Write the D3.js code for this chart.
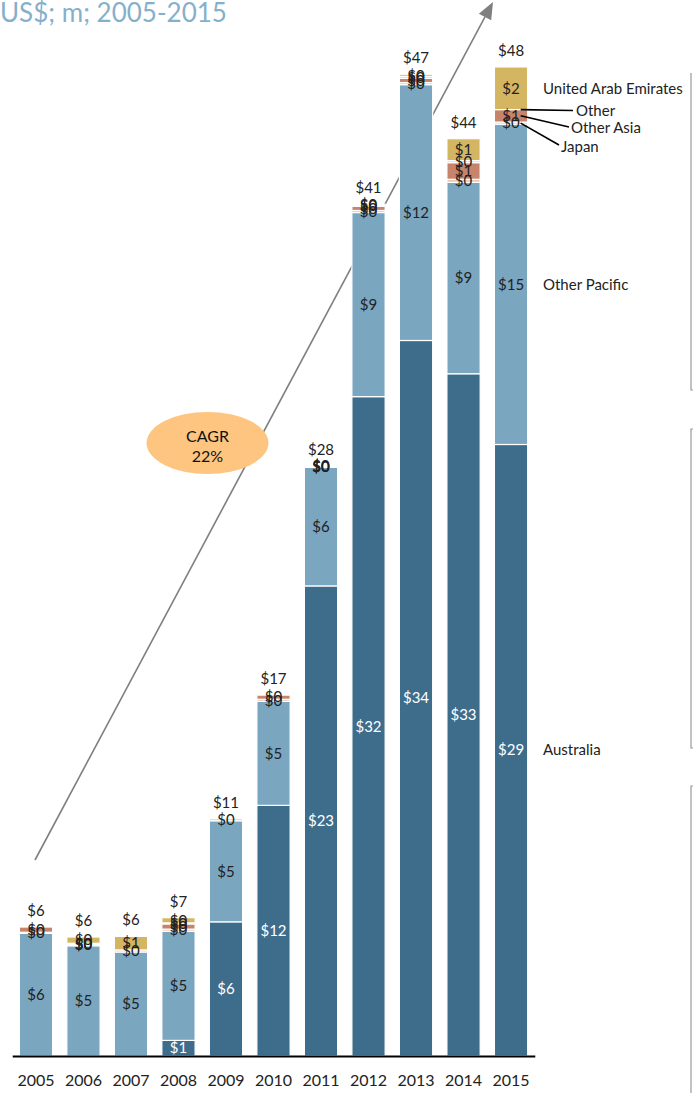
<!DOCTYPE html>
<html>
<head>
<meta charset="utf-8">
<script src="https://cdn.jsdelivr.net/npm/d3@7"></script>
<style>
  html, body { margin: 0; padding: 0; background: #fff; }
  svg { display: block; font-family: Lato, "Open Sans", sans-serif; }
</style>
</head>
<body>
<svg id="chart" width="693" height="1093"></svg>
<script>
// ---- data ----
const years = ["2005","2006","2007","2008","2009","2010","2011","2012","2013","2014","2015"];
const australia    = [0, 0, 0, 0.75, 6.45, 12.05, 22.6, 31.7, 34.4, 32.8, 29.4];
const otherPacific = [5.9, 5.3, 5.0, 5.25, 4.86, 5.0, 5.7, 8.85, 12.3, 9.2, 15.4];
const japan        = [0.05, 0.05, 0.1, 0.1, 0.1, 0.1, 0.02, 0.1, 0.1, 0.15, 0.1];
const otherAsia    = [0.25, 0.05, 0, 0.25, 0, 0.2, 0.02, 0.2, 0.2, 0.8, 0.6];
const other        = [0, 0.02, 0, 0.05, 0, 0, 0.01, 0.05, 0.1, 0.1, 0];
const uae          = [0, 0.3, 0.65, 0.25, 0, 0, 0.01, 0.05, 0.1, 1.05, 2.05];
const seriesNames  = ["Australia", "Other Pacific", "Japan", "Other Asia", "Other", "United Arab Emirates"];
const cagrLabel = ["CAGR", "22%"];
const titleText = "US$; m; 2005-2015";

const seriesValues = [australia, otherPacific, japan, otherAsia, other, uae];
const colors = ["#3e6d8c", "#7ba6c0", "#eccab4", "#c8836b", "#f0d7c4", "#d4b562"];
const labelColors = ["#ffffff", "#222", "#222", "#222", "#222", "#222"];

const rows = years.map((y, i) => {
  const r = { year: y };
  seriesNames.forEach((s, j) => r[s] = seriesValues[j][i]);
  return r;
});

const svg = d3.select("#chart");
const baseY = 1056;
const x = d3.scaleBand().domain(years).range([12.2, 534.8]).paddingInner(0.3).paddingOuter(0.15);
const y = d3.scaleLinear().domain([0, 50]).range([baseY, baseY - 50 * 20.8]);

const stack = d3.stack().keys(seriesNames)(rows);

// title
svg.append("text").attr("x", 0).attr("y", 22)
  .attr("font-size", 26).attr("fill", "#86b0ca").text(titleText);

// CAGR arrow
const ax0 = 35, ay0 = 860, ax1 = 493, ay1 = 2;
const ang = Math.atan2(ay1 - ay0, ax1 - ax0);
const headLen = 17, headW = 7;
const bx = ax1 - headLen * Math.cos(ang), by = ay1 - headLen * Math.sin(ang);
svg.append("line").attr("x1", ax0).attr("y1", ay0).attr("x2", bx).attr("y2", by)
  .attr("stroke", "#7f7f7f").attr("stroke-width", 1.6);
svg.append("polygon")
  .attr("points", [
    [ax1, ay1],
    [bx + headW * Math.sin(ang), by - headW * Math.cos(ang)],
    [bx - headW * Math.sin(ang), by + headW * Math.cos(ang)]
  ].map(p => p.join(",")).join(" "))
  .attr("fill", "#7f7f7f");

// bars
const layers = svg.append("g").selectAll("g").data(stack).join("g")
  .attr("fill", (d, i) => colors[i]);
layers.selectAll("rect").data(d => d.filter(p => p[1] - p[0] > 0)).join("rect")
  .attr("x", d => x(d.data.year))
  .attr("width", x.bandwidth())
  .attr("y", d => y(d[1]))
  .attr("height", d => y(d[0]) - y(d[1]))
  .attr("stroke", "#fff").attr("stroke-width", 1.2);

// segment labels
stack.forEach((layer, i) => {
  svg.append("g").selectAll("text").data(layer.filter(p => p[1] - p[0] > 0)).join("text")
    .attr("x", d => x(d.data.year) + x.bandwidth() / 2)
    .attr("y", d => y((d[0] + d[1]) / 2))
    .attr("dy", "0.35em")
    .attr("text-anchor", "middle")
    .attr("font-size", 15)
    .attr("fill", labelColors[i])
    .text(d => "$" + Math.round(d[1] - d[0]));
});

// totals
const totals = rows.map((r, i) => ({ year: r.year, total: d3.sum(seriesValues, s => s[i]) }));
svg.append("g").selectAll("text").data(totals).join("text")
  .attr("x", d => x(d.year) + x.bandwidth() / 2)
  .attr("y", d => y(d.total) - 11)
  .attr("text-anchor", "middle")
  .attr("font-size", 15)
  .attr("fill", "#222")
  .text(d => "$" + Math.round(d.total));

// ellipse CAGR
svg.append("ellipse").attr("cx", 207.5).attr("cy", 443).attr("rx", 61).attr("ry", 31)
  .attr("fill", "#fdc580");
svg.append("text").attr("x", 207.5).attr("y", 436).attr("dy", "0.35em").attr("text-anchor", "middle")
  .attr("font-size", 16).attr("fill", "#111").text(cagrLabel[0]);
svg.append("text").attr("x", 207.5).attr("y", 456).attr("dy", "0.35em").attr("text-anchor", "middle")
  .attr("font-size", 16).attr("fill", "#111").text(cagrLabel[1]);

// x axis
const axis = svg.append("g").attr("transform", `translate(0,${baseY})`)
  .call(d3.axisBottom(x).tickSize(0).tickPadding(19));
axis.select(".domain").attr("stroke", "#000").attr("stroke-width", 2);
axis.selectAll("text").attr("font-size", 16).attr("fill", "#222").attr("font-family", "Lato, sans-serif");

// legend at last bar
const last = years.length - 1;
const lastX = x(years[last]) + x.bandwidth();
const seg = j => { const p = stack[j][last]; return y((p[0] + p[1]) / 2); };
const legendG = svg.append("g").attr("font-size", 15).attr("fill", "#222");
[0, 1, 5].forEach(j => {
  legendG.append("text").attr("x", 543).attr("y", seg(j)).attr("dy", "0.35em").text(seriesNames[j]);
});
const leaders = [
  { j: 4, tx: 576, ty: 111, ex: 573, ey: 110.5 },
  { j: 3, tx: 571, ty: 128, ex: 569, ey: 127 },
  { j: 2, tx: 561, ty: 147, ex: 559, ey: 145 }
];
leaders.forEach(l => {
  legendG.append("line").attr("x1", lastX - 7).attr("y1", seg(l.j)).attr("x2", l.ex).attr("y2", l.ey)
    .attr("stroke", "#000").attr("stroke-width", 1.6);
  legendG.append("text").attr("x", l.tx).attr("y", l.ty).attr("dy", "0.35em").text(seriesNames[l.j]);
});

// brackets on right edge
const br = svg.append("g").attr("stroke", "#999").attr("fill", "none").attr("stroke-width", 1.2);
br.append("path").attr("d", "M691,73 V390 H694");
br.append("path").attr("d", "M694,429 H691 V748 H694");
br.append("path").attr("d", "M694,786 H691 V1093");
</script>
</body>
</html>
